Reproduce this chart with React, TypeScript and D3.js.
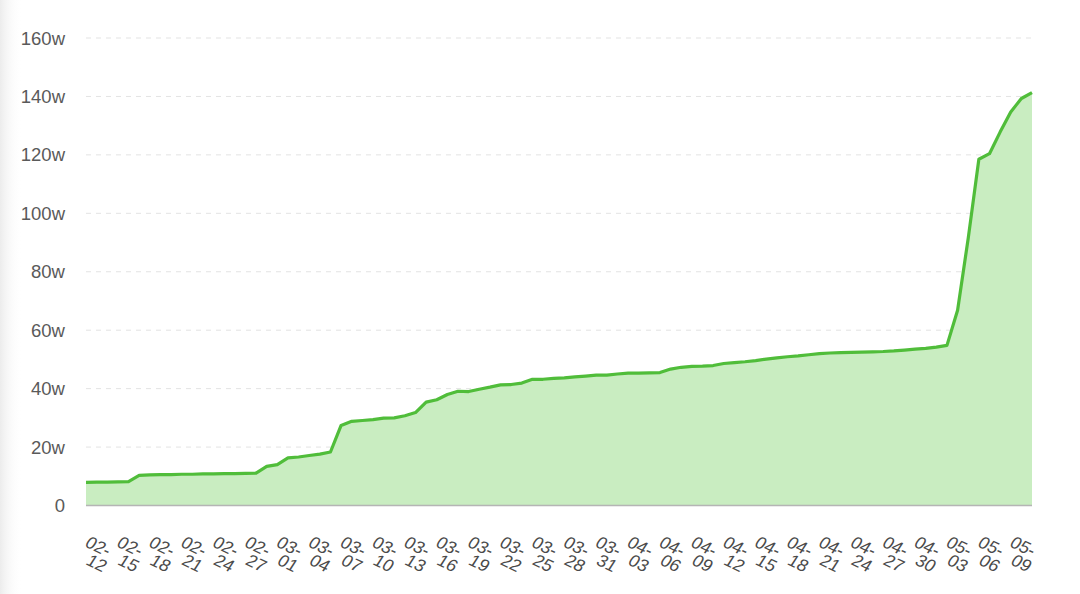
import React from "react";
import * as d3 from "d3";

// Daily cumulative values, in 万 (w)
const startDate = new Date(2024, 1, 12);
const endDate = new Date(2024, 4, 12);
const fmt = d3.timeFormat("%m-%d");
const categories: string[] = d3.timeDay.range(startDate, endDate).map((d) => fmt(d));

const values: number[] = [
  7.9, 8.0, 8.0, 8.1, 8.2, 10.3, 10.5, 10.6, 10.6, 10.7,
  10.7, 10.8, 10.8, 10.9, 10.9, 11.0, 11.1, 13.4, 14.0, 16.3,
  16.6, 17.1, 17.6, 18.3, 27.4, 28.8, 29.1, 29.4, 29.9, 30.0,
  30.7, 31.8, 35.4, 36.2, 38.0, 39.1, 39.0, 39.8, 40.5, 41.3,
  41.4, 41.9, 43.2, 43.2, 43.5, 43.7, 44.0, 44.3, 44.6, 44.6,
  45.0, 45.3, 45.3, 45.4, 45.5, 46.7, 47.3, 47.6, 47.7, 47.9,
  48.6, 48.9, 49.2, 49.6, 50.1, 50.5, 50.9, 51.2, 51.6, 52.0,
  52.2, 52.3, 52.4, 52.5, 52.6, 52.7, 52.9, 53.2, 53.5, 53.8,
  54.2, 54.8, 66.8, 91.5, 118.5, 120.4, 127.8, 134.7, 139.3, 141.3,
];

const yTicks: number[] = [0, 20, 40, 60, 80, 100, 120, 140, 160];
const yTickLabels: string[] = ["0", "20w", "40w", "60w", "80w", "100w", "120w", "140w", "160w"];
const labelEvery = 3;

const W = 1080;
const H = 594;

export default function App() {
  const x = d3.scalePoint<string>().domain(categories).range([86, 1032]);
  const y = d3.scaleLinear().domain([0, 160]).range([505.5, 38]);

  const data = categories.map((c, i) => ({ c, v: values[i] }));
  const line = d3
    .line<{ c: string; v: number }>()
    .x((d) => x(d.c) as number)
    .y((d) => y(d.v));
  const area = d3
    .area<{ c: string; v: number }>()
    .x((d) => x(d.c) as number)
    .y0(y(0))
    .y1((d) => y(d.v));

  const font = "'Liberation Sans', Arial, Helvetica, sans-serif";

  return (
    <svg
      width={W}
      height={H}
      viewBox={`0 0 ${W} ${H}`}
      style={{ position: "fixed", left: 0, top: 0, background: "#fff" }}
    >
      <defs>
        <linearGradient id="edge" x1="0" x2="1" y1="0" y2="0">
          <stop offset="0" stopColor="#ececec" />
          <stop offset="1" stopColor="#ffffff" stopOpacity="0" />
        </linearGradient>
      </defs>
      <rect x={0} y={0} width={W} height={H} fill="#fff" />
      <rect x={0} y={0} width={22} height={H} fill="url(#edge)" />

      {/* grid lines */}
      {yTicks.map((t) =>
        t === 0 ? null : (
          <line
            key={t}
            x1={86}
            x2={1032}
            y1={y(t)}
            y2={y(t)}
            stroke="#e3e3e3"
            strokeWidth={1}
            strokeDasharray="5,5"
          />
        )
      )}

      {/* area + line */}
      <path d={area(data) || ""} fill="#c9edc1" />
      <path
        d={line(data) || ""}
        fill="none"
        stroke="#50bd3a"
        strokeWidth={3.2}
        strokeLinejoin="round"
      />

      {/* x axis line */}
      <line x1={86} x2={1032} y1={y(0)} y2={y(0)} stroke="#b5b5b5" strokeWidth={1.5} />

      {/* y labels */}
      {yTicks.map((t, i) => (
        <text
          key={t}
          x={65}
          y={y(t)}
          textAnchor="end"
          dominantBaseline="central"
          fontFamily={font}
          fontSize={18.5}
          fill="#5a5a5a"
        >
          {yTickLabels[i]}
        </text>
      ))}

      {/* x labels (wrapped and slanted) */}
      {categories.map((c, i) => {
        if (i % labelEvery !== 0) return null;
        const px = x(c) as number;
        const [mm, dd] = c.split("-");
        return (
          <g key={c} fontFamily={font} fontSize={17.5} fill="#4a4a4a">
            <text
              transform={`translate(${px + 1},${541}) rotate(25) skewX(-8)`}
              dominantBaseline="central"
            >
              {mm + "-"}
            </text>
            <text
              transform={`translate(${px + 2},${559}) rotate(25) skewX(-8)`}
              dominantBaseline="central"
            >
              {dd}
            </text>
          </g>
        );
      })}
    </svg>
  );
}
